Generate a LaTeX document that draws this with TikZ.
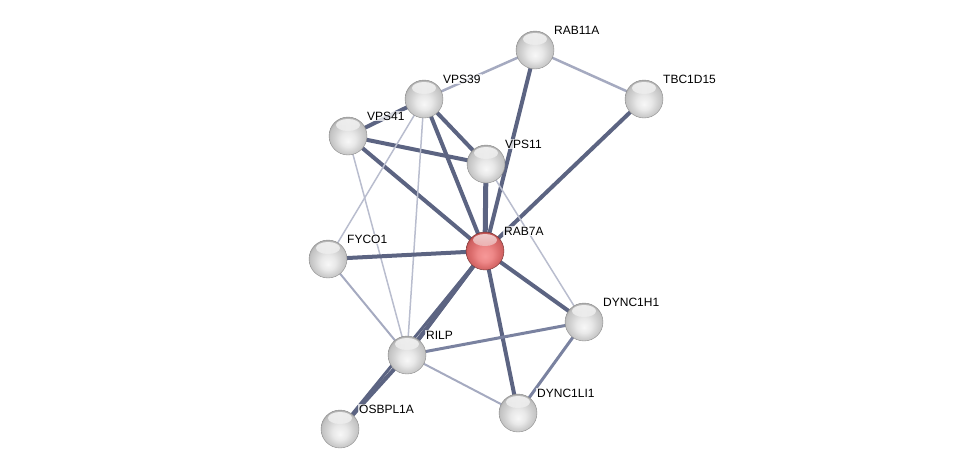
\documentclass[tikz,border=0pt]{standalone}
\usepackage{fontspec}
\setmainfont{Liberation Sans}
\usetikzlibrary{backgrounds}
\definecolor{edark}{RGB}{92,100,130}
\definecolor{emed}{RGB}{122,130,160}
\definecolor{elight}{RGB}{165,170,192}
\definecolor{ethin}{RGB}{185,189,206}
\pgfdeclareradialshading{greyball}{\pgfpoint{0bp}{-7bp}}{%
  color(0bp)=(white!97!black); color(10bp)=(white!91!black); color(18bp)=(white!82!black);
  color(24bp)=(white!76!black); color(28bp)=(white!62!black); color(32bp)=(white!45!black)}
\pgfdeclareradialshading{redball}{\pgfpoint{0bp}{-7bp}}{%
  color(0bp)=(rgb,255:red,246;green,152;blue,152); color(10bp)=(rgb,255:red,238;green,136;blue,136);
  color(18bp)=(rgb,255:red,220;green,110;blue,110); color(24bp)=(rgb,255:red,206;green,96;blue,96);
  color(28bp)=(rgb,255:red,170;green,62;blue,62); color(32bp)=(rgb,255:red,125;green,35;blue,35)}
\tikzset{
  protein/.style={circle, minimum size=38pt, inner sep=0pt, shading=greyball, draw=black!45, line width=0.4pt,
    path picture={\shade[top color=white, bottom color=white!82!black, opacity=0.75]
      ([yshift=-8pt]path picture bounding box.north) ellipse [x radius=12pt, y radius=6pt];}},
  query/.style={circle, minimum size=38pt, inner sep=0pt, shading=redball, draw=red!30!black!80, line width=0.4pt,
    path picture={\shade[top color=white, bottom color={rgb,255:red,206;green,96;blue,96}, opacity=0.7]
      ([yshift=-8pt]path picture bounding box.north) ellipse [x radius=12pt, y radius=6pt];}},
  lbl/.style={anchor=base west, font=\fontsize{12}{14}\selectfont, fill=white, fill opacity=0.75, text opacity=1, inner sep=1pt},
  thick edge/.style={draw=edark, line width=4pt},
  med edge/.style={draw=emed, line width=3pt},
  light edge/.style={draw=elight, line width=2.5pt},
  thin edge/.style={draw=ethin, line width=1.5pt},
}
\begin{document}
\begin{tikzpicture}[x=1pt,y=-1pt]
\useasboundingbox (0,0) rectangle (976,474);
\node[protein] (rab11a) at (535,50) {};
\node[protein] (tbc) at (644,99) {};
\node[protein] (vps39) at (424,99) {};
\node[protein] (vps41) at (348,136) {};
\node[protein] (vps11) at (486,164) {};
\node[query] (rab7a) at (485,251) {};
\node[protein] (fyco1) at (328,259) {};
\node[protein] (dynh) at (584,322) {};
\node[protein] (rilp) at (407,355) {};
\node[protein] (dynl) at (518,413) {};
\node[protein] (osb) at (340,429) {};
\begin{scope}[on background layer]
\draw[light edge] (vps39.center) -- (rab11a.center);
\draw[light edge] (rab11a.center) -- (tbc.center);
\draw[thick edge] (rab11a.center) -- (rab7a.center);
\draw[thick edge] (tbc.center) -- (rab7a.center);
\draw[thick edge] (vps39.center) -- (vps41.center);
\draw[thick edge] (vps39.center) -- (vps11.center);
\draw[thick edge] (vps39.center) -- (rab7a.center);
\draw[thick edge] (vps41.center) -- (vps11.center);
\draw[thick edge] (vps41.center) -- (rab7a.center);
\draw[thick edge, line width=5pt] (vps11.center) -- (rab7a.center);
\draw[thin edge] (vps11.center) -- (dynh.center);
\draw[thin edge] (vps39.center) -- (fyco1.center);
\draw[thin edge] (vps39.center) -- (rilp.center);
\draw[thin edge] (vps41.center) -- (rilp.center);
\draw[thick edge] (fyco1.center) -- (rab7a.center);
\draw[light edge, line width=2pt] (fyco1.center) -- (rilp.center);
\draw[thick edge] ([xshift=-2pt,yshift=-2pt]rab7a.center) -- ([xshift=-2pt,yshift=-2pt]rilp.center);
\draw[thick edge, line width=3pt] ([xshift=2pt,yshift=2pt]rab7a.center) -- ([xshift=2pt,yshift=2pt]rilp.center);
\draw[thick edge] (rab7a.center) -- (dynh.center);
\draw[thick edge] (rab7a.center) -- (dynl.center);
\draw[med edge] (rilp.center) -- (dynh.center);
\draw[light edge, line width=2pt] (rilp.center) -- (dynl.center);
\draw[med edge] (dynh.center) -- (dynl.center);
\draw[thick edge, line width=3pt] (osb.center) -- (rab7a.center);
\draw[thick edge] (osb.center) -- (rilp.center);
\end{scope}
\node[lbl] (lrab11a) at ([shift={(18,-16)}]rab11a.center) {RAB11A};
\node[lbl] (ltbc) at ([shift={(18,-16)}]tbc.center) {TBC1D15};
\node[lbl] (lvps39) at ([shift={(18,-16)}]vps39.center) {VPS39};
\node[lbl] (lvps41) at ([shift={(18,-16)}]vps41.center) {VPS41};
\node[lbl] (lvps11) at ([shift={(18,-16)}]vps11.center) {VPS11};
\node[lbl] (lrab7a) at ([shift={(18,-16)}]rab7a.center) {RAB7A};
\node[lbl] (lfyco1) at ([shift={(18,-16)}]fyco1.center) {FYCO1};
\node[lbl] (ldynh) at ([shift={(18,-16)}]dynh.center) {DYNC1H1};
\node[lbl] (lrilp) at ([shift={(18,-16)}]rilp.center) {RILP};
\node[lbl] (ldynl) at ([shift={(18,-16)}]dynl.center) {DYNC1LI1};
\node[lbl] (losb) at ([shift={(18,-16)}]osb.center) {OSBPL1A};
\end{tikzpicture}
\end{document}
